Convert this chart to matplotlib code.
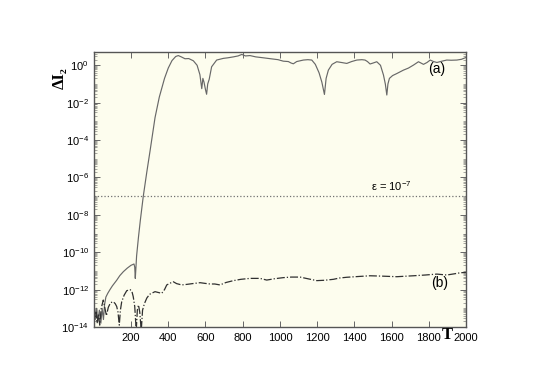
import numpy as np
import matplotlib
matplotlib.use("Agg")
import matplotlib.pyplot as plt
from matplotlib.ticker import LogLocator, NullFormatter, FixedLocator

plt.rcParams['font.family'] = ['Liberation Sans', 'DejaVu Sans']
plt.rcParams['mathtext.default'] = 'regular'

# curve (a): T and log10(dI2)
t_a = [0, 8, 15, 22, 30, 38, 45, 52, 58, 65, 75, 87, 100, 123, 140, 159, 180, 200, 216,
       220, 223, 226, 230, 240, 250, 266, 285, 302, 329, 352, 380, 400, 420, 440, 454,
       470, 490, 510, 535, 555, 570, 580, 586, 592, 600, 606, 612, 620, 633, 660, 696,
       720, 750, 775, 795, 815, 839, 870, 911, 950, 990, 1018, 1045, 1060, 1072, 1090,
       1126, 1150, 1171, 1190, 1210, 1225, 1239, 1248, 1260, 1280, 1305, 1330, 1359,
       1385, 1413, 1440, 1457, 1470, 1484, 1500, 1520, 1540, 1556, 1566, 1574, 1580,
       1588, 1605, 1628, 1663, 1690, 1717, 1744, 1771, 1790, 1807, 1825, 1843, 1870,
       1896, 1920, 1950, 1975, 2000]
lg_a = [-13.2, -13.6, -13.0, -13.7, -13.1, -13.8, -13.0, -13.6, -12.8, -12.4, -12.2, -12.0,
        -11.8, -11.5, -11.25, -11.04, -10.85, -10.7, -10.63, -10.8, -11.4, -10.9, -10.2,
        -9.2, -8.3, -7.0, -5.7, -4.6, -2.8, -1.7, -0.7, -0.15, 0.25, 0.47, 0.52, 0.45,
        0.35, 0.36, 0.24, 0.0, -0.5, -1.25, -0.7, -0.9, -1.3, -1.55, -1.0, -0.75, -0.08,
        0.28, 0.37, 0.4, 0.45, 0.5, 0.58, 0.5, 0.52, 0.45, 0.4, 0.35, 0.3, 0.22, 0.2,
        0.12, 0.08, 0.2, 0.28, 0.3, 0.28, 0.05, -0.4, -0.9, -1.56, -0.7, -0.26, 0.05,
        0.19, 0.15, 0.1, 0.2, 0.28, 0.3, 0.28, 0.2, 0.07, 0.12, 0.19, 0.0, -0.52, -1.0,
        -1.59, -1.0, -0.7, -0.55, -0.44, -0.26, -0.15, 0.01, 0.19, 0.05, 0.15, 0.28, 0.2,
        0.15, 0.22, 0.28, 0.27, 0.28, 0.32, 0.42]

# curve (b)
t_b = [0, 6, 12, 18, 25, 32, 40, 51, 60, 68, 78, 90, 105, 115, 123, 130, 137, 143, 150,
       163, 177, 195, 205, 212, 220, 228, 234, 240, 247, 255, 262, 272, 285, 300, 329,
       345, 365, 380, 392, 409, 427, 445, 472, 500, 530, 571, 600, 624, 650, 678, 710,
       750, 790, 839, 893, 929, 970, 1018, 1060, 1108, 1150, 1198, 1240, 1287, 1320,
       1359, 1420, 1484, 1550, 1628, 1680, 1717, 1780, 1843, 1896, 1940, 1968, 2000]
lg_b = [-13.0, -13.5, -13.2, -13.8, -13.3, -13.9, -13.0, -12.56, -13.0, -13.4, -12.95,
        -12.7, -12.65, -12.75, -12.9, -13.2, -13.9, -13.1, -12.65, -12.3, -12.06, -12.0,
        -12.1, -12.38, -12.9, -14.2, -13.1, -12.82, -13.2, -14.2, -13.1, -12.75, -12.45,
        -12.25, -12.11, -12.15, -12.2, -12.0, -11.75, -11.66, -11.58, -11.68, -11.75,
        -11.72, -11.68, -11.63, -11.67, -11.7, -11.7, -11.75, -11.62, -11.52, -11.45,
        -11.4, -11.4, -11.49, -11.42, -11.36, -11.33, -11.33, -11.42, -11.52, -11.5,
        -11.45, -11.38, -11.34, -11.3, -11.26, -11.28, -11.31, -11.28, -11.26, -11.22,
        -11.17, -11.22, -11.15, -11.1, -11.08]

eps = 1e-7
x_ticks = [200, 400, 600, 800, 1000, 1200, 1400, 1600, 1800, 2000]
y_ticks = [1e-14, 1e-12, 1e-10, 1e-8, 1e-6, 1e-4, 1e-2, 1e0]

fig = plt.figure(figsize=(5.5, 3.8), dpi=100)
ax = fig.add_axes([0.1705, 0.1395, 0.677, 0.7235])
ax.set_facecolor('#fdfdee')

ax.plot(t_a, 10 ** np.array(lg_a), color='#686868', lw=0.85)
ax.plot(t_b, 10 ** np.array(lg_b), color='#303030', lw=0.9, ls='-.')
ax.axhline(eps, color='#707070', lw=0.9, ls=':')

ax.set_yscale('log')
ax.set_xlim(0, 2000)
ax.set_ylim(1e-14, 5.1)
ax.set_xticks(x_ticks)
ax.yaxis.set_major_locator(FixedLocator(y_ticks))
ax.yaxis.set_minor_locator(LogLocator(base=10, subs=np.arange(1, 10), numticks=50))
ax.yaxis.set_minor_formatter(NullFormatter())

ax.tick_params(which='both', direction='in', top=True, right=True,
               colors='#666666', labelcolor='black', labelsize=8)
ax.tick_params(which='major', length=4, width=0.7)
ax.tick_params(which='minor', length=2, width=0.4)
ax.tick_params(axis='x', pad=4)
for s in ax.spines.values():
    s.set_color('#555555')
    s.set_linewidth(1.0)

ax.text(1600, 1.4e-7, r'ε = 10$^{-7}$', ha='center', va='bottom', fontsize=8)
ax.text(1841, 0.65, '(a)', ha='center', va='center', fontsize=10)
ax.text(1860, 2.2e-12, '(b)', ha='center', va='center', fontsize=10)

ax.text(1900, -0.03, 'T', transform=ax.get_xaxis_transform(), ha='center', va='center',
        fontsize=12, fontweight='bold', family=['Liberation Serif', 'DejaVu Serif'])
ax.text(-0.092, 0.905, 'ΔI₂', transform=ax.transAxes, ha='center', va='center',
        rotation=90, fontsize=12, fontweight='bold',
        family=['Liberation Serif', 'DejaVu Serif'])

fig.savefig('out.png', dpi=100)
